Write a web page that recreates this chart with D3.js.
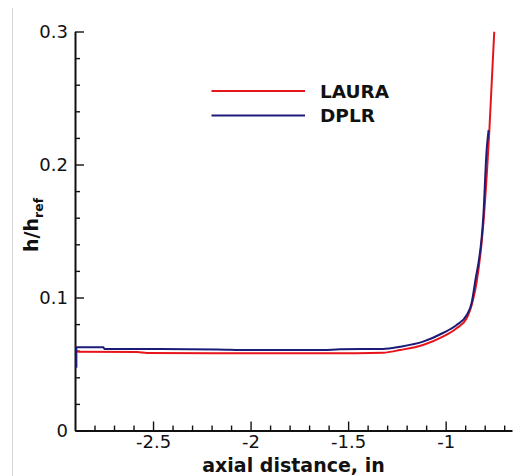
<!DOCTYPE html>
<html>
<head>
<meta charset="utf-8">
<script src="https://cdn.jsdelivr.net/npm/d3@7"></script>
<style>
  body { margin: 0; background: #fff; }
  svg text { font-family: "DejaVu Sans", sans-serif; fill: #111; }
</style>
</head>
<body>
<div id="chart"></div>
<script>
// axial distance (in) and heating ratio
var lauraX = [-2.888, -2.582, -2.531, -2.002, -1.592, -1.321, -1.234, -1.116, -1.014, -0.944, -0.892, -0.860, -0.842, -0.804, -0.776, -0.751];
var lauraY = [0.0592, 0.0590, 0.0583, 0.0580, 0.0580, 0.0585, 0.0605, 0.0643, 0.0705, 0.0768, 0.0844, 0.0981, 0.1109, 0.1608, 0.2259, 0.2998];

var dplrX = [-2.893, -2.893, -2.755, -2.749, -2.531, -2.172, -2.002, -1.628, -1.541, -1.321, -1.234, -1.116, -1.014, -0.944, -0.892, -0.867, -0.850, -0.807, -0.790, -0.780];
var dplrY = [0.0472, 0.0626, 0.0626, 0.0613, 0.0613, 0.0609, 0.0605, 0.0605, 0.0611, 0.0613, 0.0630, 0.0668, 0.0733, 0.0793, 0.0868, 0.0959, 0.1109, 0.1608, 0.2109, 0.2259];

var xMajor = [-2.5, -2, -1.5, -1];
var xMinor = [-2.8, -2.7, -2.6, -2.4, -2.3, -2.2, -2.1, -1.9, -1.8, -1.7, -1.6, -1.4, -1.3, -1.2, -1.1, -0.9, -0.8, -0.7];
var yMajor = [0, 0.1, 0.2, 0.3];
var yMinor = [0.02, 0.04, 0.06, 0.08, 0.12, 0.14, 0.16, 0.18, 0.22, 0.24, 0.26, 0.28];

var seriesNames = ["LAURA", "DPLR"];
var seriesColors = ["#e8141c", "#1c1c78"];

var svgWidth = 518;
var svgHeight = 476;

var svg = d3.select("#chart")
    .append("svg")
    .attr("width", svgWidth)
    .attr("height", svgHeight);

// thin grey page edge on the left
svg.append("line")
    .attr("x1", 12.5).attr("x2", 12.5)
    .attr("y1", 8).attr("y2", svgHeight)
    .attr("stroke", "#d6d6d6")
    .attr("stroke-width", 1);

var xScale = d3.scaleLinear().domain([-2.9, -0.66]).range([75, 512]);
var yScale = d3.scaleLinear().domain([0, 0.3]).range([430.5, 31.5]);

// minor ticks first, then major axes on top
svg.append("g")
    .attr("transform", "translate(0," + yScale(0) + ")")
    .call(d3.axisBottom(xScale).tickValues(xMinor).tickSize(-5).tickFormat(""))
    .call(g => g.select(".domain").remove());
svg.append("g")
    .attr("transform", "translate(" + xScale(-2.9) + ",0)")
    .call(d3.axisLeft(yScale).tickValues(yMinor).tickSize(-5).tickFormat(""))
    .call(g => g.select(".domain").remove());

var xAxis = svg.append("g")
    .attr("transform", "translate(0," + yScale(0) + ")")
    .call(d3.axisBottom(xScale).tickValues(xMajor).tickSize(-9).tickSizeOuter(0)
        .tickPadding(5).tickFormat(d => d3.format("")(d).replace("−", "-")));
var yAxis = svg.append("g")
    .attr("transform", "translate(" + xScale(-2.9) + ",0)")
    .call(d3.axisLeft(yScale).tickValues(yMajor).tickSize(-9).tickSizeOuter(0)
        .tickPadding(7).tickFormat(d => d === 0 ? "0" : d3.format(".1f")(d)));

svg.selectAll(".tick line").attr("stroke", "#111").attr("stroke-width", 1.4);
svg.selectAll(".domain").attr("stroke", "#111").attr("stroke-width", 2);
svg.selectAll(".tick text")
    .attr("font-family", "DejaVu Sans, sans-serif")
    .attr("font-size", 18)
    .attr("fill", "#1a1a1a");

// curves
var line = d3.line()
    .x(d => xScale(d[0]))
    .y(d => yScale(d[1]))
    .curve(d3.curveMonotoneX);

var lauraPts = lauraX.map((v, i) => [v, lauraY[i]]);
var dplrPts = dplrX.map((v, i) => [v, dplrY[i]]);

svg.append("path")
    .datum(lauraPts)
    .attr("d", line)
    .attr("fill", "none")
    .attr("stroke", seriesColors[0])
    .attr("stroke-width", 2);

svg.append("path")
    .datum(dplrPts)
    .attr("d", line)
    .attr("fill", "none")
    .attr("stroke", seriesColors[1])
    .attr("stroke-width", 2);

// legend
var legend = svg.append("g");
seriesNames.forEach(function (name, i) {
    var ly = 91 + i * 24.6;
    legend.append("line")
        .attr("x1", 211.5).attr("x2", 305)
        .attr("y1", ly).attr("y2", ly)
        .attr("stroke", seriesColors[i])
        .attr("stroke-width", 2);
    legend.append("text")
        .attr("x", 320)
        .attr("y", ly + 6.5)
        .attr("font-size", 18.5)
        .attr("font-weight", "bold")
        .text(name);
});

// axis titles
svg.append("text")
    .attr("x", (xScale(-2.9) + xScale(-0.66)) / 2)
    .attr("y", 471.5)
    .attr("text-anchor", "middle")
    .attr("font-size", 19)
    .attr("font-weight", "bold")
    .text("axial distance, in");

var yTitle = svg.append("text")
    .attr("transform", "translate(38,252) rotate(-90)")
    .attr("font-size", 19)
    .attr("font-weight", "bold");
yTitle.append("tspan").text("h/h");
yTitle.append("tspan")
    .attr("font-size", 12.5)
    .attr("dy", 5)
    .text("ref");
</script>
</body>
</html>
